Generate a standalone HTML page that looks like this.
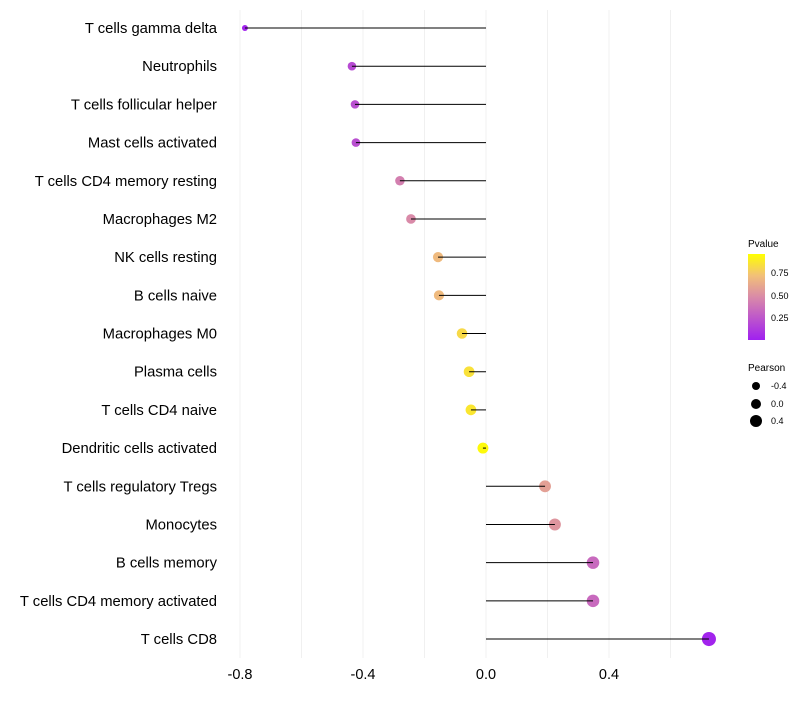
<!DOCTYPE html>
<html><head><meta charset="utf-8"><style>
body{margin:0;background:#fff;font-family:"Liberation Sans",sans-serif}
</style></head><body>
<svg id="c" width="800" height="700" xmlns="http://www.w3.org/2000/svg">
<defs><linearGradient id="pg" x1="0" y1="1" x2="0" y2="0">
<stop offset="0" stop-color="#a020f0"/><stop offset="0.5" stop-color="#d98aa8"/><stop offset="0.75" stop-color="#f2c078"/><stop offset="1" stop-color="#ffff00"/></linearGradient></defs>
<g id="grid"></g><g id="marks"></g><g id="labels"></g>
<g font-size="10" fill="#000">
<text x="748" y="247">Pvalue</text>
<rect x="748" y="254" width="17" height="86" fill="url(#pg)"/>
<text x="771" y="276" font-size="9">0.75</text>
<text x="771" y="299" font-size="9">0.50</text>
<text x="771" y="321" font-size="9">0.25</text>
<text x="748" y="371">Pearson</text>
<circle cx="756" cy="386" r="4"/><text x="771" y="389" font-size="9">-0.4</text>
<circle cx="756" cy="404" r="5"/><text x="771" y="407" font-size="9">0.0</text>
<circle cx="756" cy="421" r="6"/><text x="771" y="424" font-size="9">0.4</text>
</g>
</svg>
<script>
const cells=["T cells gamma delta","Neutrophils","T cells follicular helper","Mast cells activated","T cells CD4 memory resting","Macrophages M2","NK cells resting","B cells naive","Macrophages M0","Plasma cells","T cells CD4 naive","Dendritic cells activated","T cells regulatory  Tregs ","Monocytes","B cells memory","T cells CD4 memory activated","T cells CD8"];
const pearson=[-0.784,-0.436,-0.426,-0.423,-0.28,-0.244,-0.156,-0.153,-0.078,-0.055,-0.049,-0.01,0.192,0.224,0.348,0.348,0.725];
const pvalue=[0.02,0.2,0.22,0.22,0.45,0.5,0.72,0.72,0.85,0.88,0.9,0.98,0.6,0.55,0.35,0.35,0.02];
const xticks=[-0.8,-0.4,0.0,0.4];
const xtickLabels=["-0.8","-0.4","0.0","0.4"];
const NS="http://www.w3.org/2000/svg";
const x=v=>486+v*307.5;
const y=i=>28+i*38.19;
function col(p){const st=[[0,[160,32,240]],[0.5,[217,138,168]],[0.75,[242,192,120]],[1,[255,255,0]]];
for(let k=1;k<st.length;k++){if(p<=st[k][0]){const a=st[k-1],b=st[k],t=(p-a[0])/(b[0]-a[0]);return 'rgb('+a[1].map((c,j)=>Math.round(c+(b[1][j]-c)*t)).join(',')+')';}}return 'rgb(255,255,0)';}
function mk(t,a,p){const e=document.createElementNS(NS,t);for(const k in a)e.setAttribute(k,a[k]);p.appendChild(e);return e;}
const g=document.getElementById('grid'),m=document.getElementById('marks'),lb=document.getElementById('labels');
[-0.8,-0.6,-0.4,-0.2,0,0.2,0.4,0.6].forEach(v=>{const l=mk('line',{x1:x(v),x2:x(v),y1:10,y2:658,stroke:'#f0f0f0','stroke-width':1},g);

});
xticks.forEach((v,i)=>{const t=mk('text',{x:x(v),y:679,'text-anchor':'middle','font-size':14.5,fill:'#000'},lb);t.textContent=xtickLabels[i];

});
cells.forEach((c,i)=>{
const t=mk('text',{x:217,y:y(i)+5,'text-anchor':'end','font-size':14.8,fill:'#000'},lb);t.textContent=c;


const r=Math.max(1.5,Math.sqrt(Math.max(0,30+27*pearson[i])));
const p=mk('circle',{cx:x(pearson[i]),cy:y(i),r:r,fill:col(pvalue[i])},m);


const l2=mk('line',{x1:x(0),x2:x(pearson[i]),y1:y(i),y2:y(i),stroke:'#000','stroke-width':1},m);


});
</script>
</body></html>
